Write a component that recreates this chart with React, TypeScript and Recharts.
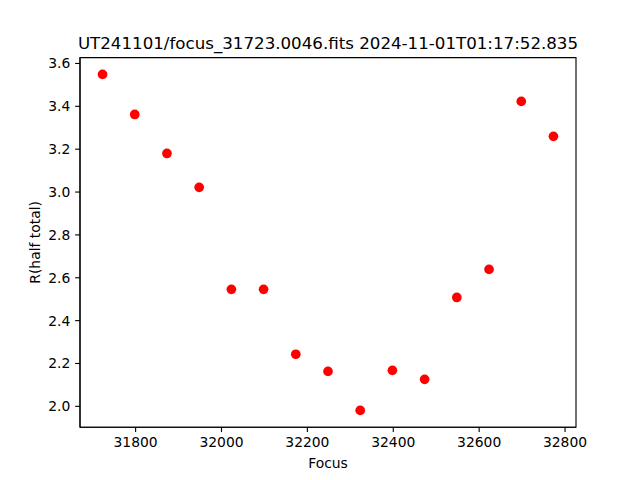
import { ScatterChart, Scatter, XAxis, YAxis, ReferenceArea } from "recharts";

const focus = [
  31723, 31798, 31873, 31948, 32023, 32098, 32173, 32248, 32323, 32398, 32473,
  32548, 32623, 32698, 32773,
];
const radius = [
  3.549, 3.362, 3.18, 3.022, 2.546, 2.546, 2.243, 2.163, 1.981, 2.168, 2.126,
  2.508, 2.639, 3.423, 3.26,
];
const xTicks = [31800, 32000, 32200, 32400, 32600, 32800];
const yTicks = [2.0, 2.2, 2.4, 2.6, 2.8, 3.0, 3.2, 3.4, 3.6];

const title = "UT241101/focus_31723.0046.fits 2024-11-01T01:17:52.835";

const points = focus.map((f, i) => ({ focus: f, r: radius[i] }));

const X_DOMAIN: [number, number] = [31670.5, 32825.5];
const Y_DOMAIN: [number, number] = [1.9026, 3.6274];

const FONT = "DejaVu Sans";
const tickStyle = { fill: "#000", fontSize: 13.89, fontFamily: FONT };

function Dot(props: any) {
  return <circle cx={props.cx} cy={props.cy} r={4.85} fill="#ff0000" />;
}

export default function App() {
  return (
    <div style={{ position: "relative", width: 640, height: 480, background: "#fff" }}>
      <style>{`body{margin:0}`}</style>
      <ScatterChart
        width={640}
        height={480}
        margin={{ top: 57.6, right: 64, bottom: 22.8, left: 30 }}
      >
        <XAxis
          type="number"
          dataKey="focus"
          domain={X_DOMAIN}
          ticks={xTicks}
          allowDataOverflow
          height={30}
          tickSize={4.86}
          tickMargin={4.86}
          tick={tickStyle}
          stroke="#000"
          tickLine={{ stroke: "#000", strokeWidth: 1.11 }}
          axisLine={{ stroke: "#000", strokeWidth: 1.11 }}
        />
        <YAxis
          type="number"
          dataKey="r"
          domain={Y_DOMAIN}
          ticks={yTicks}
          allowDataOverflow
          width={50}
          tickSize={4.86}
          tickMargin={4.86}
          tick={tickStyle}
          tickFormatter={(v: number) => v.toFixed(1)}
          stroke="#000"
          tickLine={{ stroke: "#000", strokeWidth: 1.11 }}
          axisLine={{ stroke: "#000", strokeWidth: 1.11 }}
        />
        <ReferenceArea
          x1={X_DOMAIN[0]}
          x2={X_DOMAIN[1]}
          y1={Y_DOMAIN[0]}
          y2={Y_DOMAIN[1]}
          fill="none"
          stroke="#000"
          strokeWidth={1.11}
          ifOverflow="visible"
        />
        <Scatter data={points} shape={Dot} isAnimationActive={false} />
      </ScatterChart>
      <svg
        width={640}
        height={480}
        style={{ position: "absolute", left: 0, top: 0, pointerEvents: "none" }}
      >
        <text x={328} y={49.3} textAnchor="middle" fontSize={16.67} fontFamily={FONT} fill="#000">
          {title}
        </text>
        <text x={328} y={467.5} textAnchor="middle" fontSize={13.89} fontFamily={FONT} fill="#000">
          Focus
        </text>
        <text
          x={0}
          y={0}
          transform="translate(39.5 242.4) rotate(-90)"
          textAnchor="middle"
          fontSize={13.89}
          fontFamily={FONT}
          fill="#000"
        >
          R(half total)
        </text>
      </svg>
    </div>
  );
}
